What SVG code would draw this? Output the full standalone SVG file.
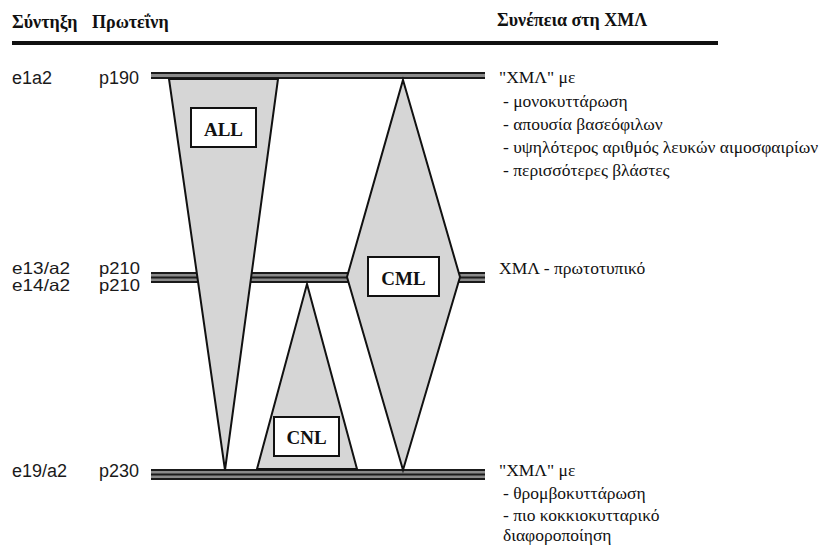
<svg xmlns="http://www.w3.org/2000/svg" width="829" height="547" viewBox="0 0 829 547">
<style>
.hdr{font-family:"Liberation Serif","DejaVu Serif",serif;font-weight:bold;font-size:18px;fill:#111}
.lbl{font-family:"Liberation Sans",Arial,sans-serif;font-size:18px;fill:#1a1a1a}
.lbl2{font-family:"Liberation Sans",Arial,sans-serif;font-size:16.5px;fill:#1a1a1a}
.rt{font-family:"Liberation Serif","DejaVu Serif",serif;font-size:17.5px;fill:#111}
.box{fill:#fff;stroke:#111;stroke-width:2}
.boxt{font-family:"Liberation Serif","DejaVu Serif",serif;font-weight:bold;font-size:19px;fill:#111;text-anchor:middle}
.shape{fill:#d6d6d6;stroke:#111;stroke-width:2;stroke-linejoin:miter}
.band{fill:#8a8a8a}
.st{stroke:#1a1a1a;stroke-width:1.8}
</style>
<g id="header">
<text class="hdr" x="12" y="28">Σύντηξη</text>
<text class="hdr" x="92" y="28">Πρωτεΐνη</text>
<text class="hdr" x="497" y="26">Συνέπεια στη ΧΜΛ</text>
<line x1="12" y1="43" x2="718" y2="43" stroke="#111" stroke-width="4"/>
</g>
<g id="connectors">
<g id="line-p190">
<rect class="band" x="151" y="72" width="334" height="7"/>
<line class="st" x1="151" y1="73" x2="485" y2="73"/>
<line class="st" x1="151" y1="78" x2="485" y2="78"/>
</g>
<g id="line-p210">
<rect class="band" x="151" y="272" width="334" height="11"/>
<line class="st" x1="151" y1="273" x2="485" y2="273"/>
<line class="st" x1="151" y1="277.5" x2="485" y2="277.5"/>
<line class="st" x1="151" y1="282" x2="485" y2="282"/>
</g>
<g id="line-p230">
<rect class="band" x="151" y="469" width="334" height="11"/>
<line class="st" x1="151" y1="470" x2="485" y2="470"/>
<line class="st" x1="151" y1="474.5" x2="485" y2="474.5"/>
<line class="st" x1="151" y1="479" x2="485" y2="479"/>
</g>
</g>
<g id="row-e1a2">
<text class="lbl" x="12" y="84">e1a2</text>
<text class="lbl" x="99" y="84">p190</text>
</g>
<g id="row-e13a2">
<text class="lbl2" x="12" y="274" textLength="58" lengthAdjust="spacingAndGlyphs">e13/a2</text>
<text class="lbl2" x="99" y="274" textLength="41" lengthAdjust="spacingAndGlyphs">p210</text>
</g>
<g id="row-e14a2">
<text class="lbl2" x="12" y="291" textLength="58" lengthAdjust="spacingAndGlyphs">e14/a2</text>
<text class="lbl2" x="99" y="291" textLength="41" lengthAdjust="spacingAndGlyphs">p210</text>
</g>
<g id="row-e19a2">
<text class="lbl" x="12" y="477">e19/a2</text>
<text class="lbl" x="99" y="477">p230</text>
</g>
<g id="ALL">
<polygon class="shape" points="169,79 278,79 225,470"/>
<rect class="box" x="191" y="108" width="65" height="39"/>
<text class="boxt" x="223.5" y="136">ALL</text>
</g>
<g id="CML">
<polygon class="shape" points="403,80 460,277 403,470 347,277"/>
<rect class="box" x="368" y="257" width="71" height="39"/>
<text class="boxt" x="403.5" y="285">CML</text>
</g>
<g id="CNL">
<polygon class="shape" points="307,284 357,469 257,469"/>
<rect class="box" x="274" y="417" width="65" height="39"/>
<text class="boxt" x="306.5" y="444">CNL</text>
</g>
<g id="consequence-p190">
<text class="rt" x="499" y="83">"ΧΜΛ" με</text>
<text class="rt" x="503" y="107">- μονοκυττάρωση</text>
<text class="rt" x="503" y="130">- απουσία βασεόφιλων</text>
<text class="rt" x="503" y="153">- υψηλότερος αριθμός λευκών αιμοσφαιρίων</text>
<text class="rt" x="503" y="176">- περισσότερες βλάστες</text>
</g>
<g id="consequence-p210">
<text class="rt" x="499" y="274">ΧΜΛ - πρωτοτυπικό</text>
</g>
<g id="consequence-p230">
<text class="rt" x="499" y="476">"ΧΜΛ" με</text>
<text class="rt" x="503" y="499">- θρομβοκυττάρωση</text>
<text class="rt" x="503" y="521">- πιο κοκκιοκυτταρικό</text>
<text class="rt" x="503" y="541">διαφοροποίηση</text>
</g>
</svg>
